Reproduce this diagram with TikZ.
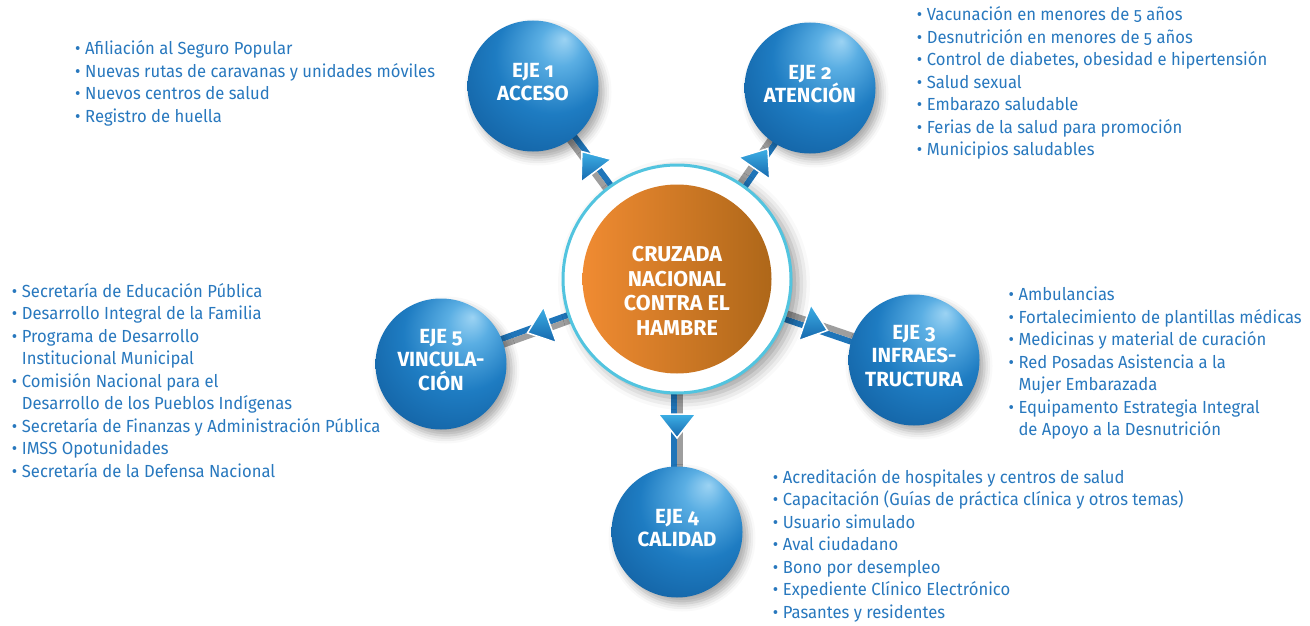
\documentclass[tikz,border=0pt]{standalone}
\usepackage{fontspec}
\setmainfont{Fira Sans}[Numbers=OldStyle]
\newfontfamily\listfont{Fira Sans}[Numbers=OldStyle,FakeStretch=0.95]
\usetikzlibrary{calc,shadows.blur}
\definecolor{txtblue}{HTML}{2878BE}
\definecolor{ringcyan}{HTML}{52C4DF}
\definecolor{orgL}{HTML}{F08B32}
\definecolor{orgR}{HTML}{AE6719}
\definecolor{conblue}{HTML}{1F75B9}
\definecolor{congray}{HTML}{9E9E9E}
\definecolor{arrL}{HTML}{3DB0E6}
\definecolor{arrD}{HTML}{1566AC}
\definecolor{sp0}{HTML}{9CD3F3}
\definecolor{sp1}{HTML}{5AAEE3}
\definecolor{sp2}{HTML}{1E7CC2}
\definecolor{sp3}{HTML}{1464A6}
\definecolor{sp4}{HTML}{0A4479}
\pgfdeclareradialshading{sphereshade}{\pgfpoint{12bp}{18bp}}{color(0bp)=(sp0); color(8bp)=(sp1); color(22bp)=(sp2); color(36bp)=(sp3); color(50bp)=(sp4); color(60bp)=(sp4)}
\pgfdeclarelayer{bg}
\pgfsetlayers{bg,main}
\newcommand\li[1]{\hbox{\makebox[10pt][l]{\textbullet}#1}}
\newcommand\lc[1]{\hbox{\hspace*{10pt}#1}}
\newcommand\lst[1]{\vtop{\baselineskip=22.5pt #1}}
\tikzset{
  sphere/.style={circle, minimum size=131pt, inner sep=0pt, shading=sphereshade,
    blur shadow={shadow xshift=5pt, shadow yshift=-6pt, shadow opacity=35, shadow blur radius=8pt}},
  spheretext/.style={inner sep=0pt, text=white, align=center, font=\bfseries\fontsize{20.5}{23.3}\selectfont},
  ring/.style={circle, minimum size=228pt, inner sep=0pt, fill=white, draw=ringcyan, line width=3pt,
    blur shadow={shadow xshift=7pt, shadow yshift=-5pt, shadow opacity=40, shadow blur radius=12pt}},
  core/.style={circle, minimum size=189pt, inner sep=0pt, left color=orgL, right color=orgR},
  coretext/.style={inner sep=0pt, text=white, align=center, font=\bfseries\fontsize{21.5}{24.5}\selectfont},
  itemlist/.style={anchor=base west, inner sep=0pt, text=txtblue, font=\listfont\fontsize{17.5}{22.5}\selectfont},
  lineb/.style={draw=conblue, line width=6pt},
  lineg/.style={draw=congray, line width=6pt},
  arrowhd/.style={top color=arrL, bottom color=arrD, draw=white, line width=1.5pt, line join=miter}
}
\begin{document}
\begin{tikzpicture}[x=1pt,y=-1pt]
\useasboundingbox (0,0) rectangle (1310,626);
\node[ring] (c) at (677,279) {};
\node[core] (core) at (677,279) {};
\node[coretext] (ct) at (677,291) {CRUZADA\\NACIONAL\\CONTRA EL\\HAMBRE};
\node[sphere] (e1) at (533,86) {};
\node[sphere] (e2) at (810,88) {};
\node[sphere] (e3) at (914,360) {};
\node[sphere] (e4) at (677,532) {};
\node[sphere] (e5) at (441,364) {};
\node[spheretext] (t1) at (533,82) {EJE 1\\ACCESO};
\node[spheretext] (t2) at (810,84) {EJE 2\\ATENCIÓN};
\node[spheretext] (t3) at (914,356) {EJE 3\\INFRAES-\\TRUCTURA};
\node[spheretext] (t4) at (677,528) {EJE 4\\CALIDAD};
\node[spheretext] (t5) at (441,360) {EJE 5\\VINCULA-\\CIÓN};
\begin{pgfonlayer}{bg}
\foreach \e in {e1,e2,e3,e4,e5}{
  \draw[lineb] ($(c)!3pt!-90:(\e)$) -- ($(\e)!3pt!90:(c)$);
  \draw[lineg] ($(c)!3pt!90:(\e)$) -- ($(\e)!3pt!-90:(c)$);
}
\end{pgfonlayer}
\foreach \e in {e1,e2,e3,e4,e5}{
  \coordinate (B\e) at ($(c)!135pt!(\e)$);
  \coordinate (T\e) at ($(c)!159pt!(\e)$);
  \filldraw[arrowhd] ($(B\e)!19pt!90:(T\e)$) -- (T\e) -- ($(B\e)!19pt!-90:(T\e)$) -- cycle;
}
\node[itemlist] (l1) at (75,55) {\lst{%
  \li{Afiliación al Seguro Popular}
  \li{Nuevas rutas de caravanas y unidades móviles}
  \li{Nuevos centros de salud}
  \li{Registro de huella}}};
\node[itemlist] (l2) at (916.7,20.7) {\lst{%
  \li{Vacunación en menores de 5 años}
  \li{Desnutrición en menores de 5 años}
  \li{Control de diabetes, obesidad e hipertensión}
  \li{Salud sexual}
  \li{Embarazo saludable}
  \li{Ferias de la salud para promoción}
  \li{Municipios saludables}}};
\node[itemlist] (l3) at (1008.3,300.7) {\lst{%
  \li{Ambulancias}
  \li{Fortalecimiento de plantillas médicas}
  \li{Medicinas y material de curación}
  \li{Red Posadas Asistencia a la}
  \lc{Mujer Embarazada}
  \li{Equipamento Estrategia Integral}
  \lc{de Apoyo a la Desnutrición}}};
\node[itemlist] (l4) at (772.7,483.3) {\lst{%
  \li{Acreditación de hospitales y centros de salud}
  \li{Capacitación (Guías de práctica clínica y otros temas)}
  \li{Usuario simulado}
  \li{Aval ciudadano}
  \li{Bono por desempleo}
  \li{Expediente Clínico Electrónico}
  \li{Pasantes y residentes}}};
\node[itemlist] (l5) at (11.7,297.3) {\lst{%
  \li{Secretaría de Educación Pública}
  \li{Desarrollo Integral de la Familia}
  \li{Programa de Desarrollo}
  \lc{Institucional Municipal}
  \li{Comisión Nacional para el}
  \lc{Desarrollo de los Pueblos Indígenas}
  \li{Secretaría de Finanzas y Administración Pública}
  \li{IMSS Opotunidades}
  \li{Secretaría de la Defensa Nacional}}};
\end{tikzpicture}
\end{document}
